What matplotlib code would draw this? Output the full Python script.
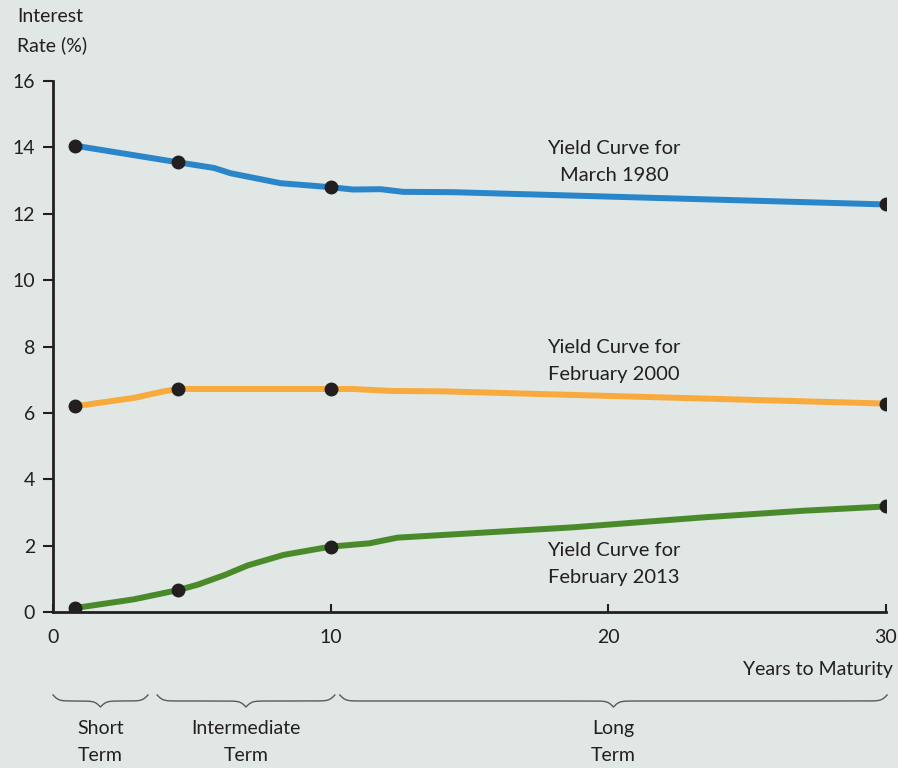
import numpy as np
import matplotlib.pyplot as plt
from matplotlib.transforms import blended_transform_factory

# yield curve data, years to maturity vs interest rate (%)
yrs_1980 = [0.8, 4.5, 5.8, 6.4, 7.0, 8.2, 10, 10.8, 11.8, 12.6, 14.4, 30]
rate_1980 = [14.05, 13.55, 13.38, 13.22, 13.12, 12.92, 12.8, 12.73, 12.74, 12.66, 12.65, 12.28]

yrs_2000 = [0.8, 2.9, 4.0, 4.5, 10, 10.8, 12.2, 14, 30]
rate_2000 = [6.2, 6.45, 6.65, 6.72, 6.72, 6.72, 6.66, 6.65, 6.28]

yrs_2013 = [0.8, 2.9, 4.5, 5.2, 6.2, 7.0, 8.3, 10, 11.4, 12.4, 18.7, 23.4, 27, 30]
rate_2013 = [0.12, 0.38, 0.66, 0.82, 1.12, 1.4, 1.72, 1.97, 2.07, 2.24, 2.55, 2.85, 3.05, 3.18]

dot_years = [0.8, 4.5, 10, 30]

curve_names = ["Yield Curve for\nMarch 1980", "Yield Curve for\nFebruary 2000",
               "Yield Curve for\nFebruary 2013"]
curve_colors = ["#2a86c8", "#f9aa3c", "#4b8a2b"]

terms = ["Short\nTerm", "Intermediate\nTerm", "Long\nTerm"]
term_spans = [(0, 3.42), (3.75, 10.15), (10.33, 30.04)]

bg = "#e0e7e5"
ink = "#231f20"
plt.rcParams['font.family'] = ['Lato', 'DejaVu Sans']

fig = plt.figure(figsize=(8.98, 7.68), dpi=100, facecolor=bg)
ax = fig.add_axes([53/898, 1-612/768, (886-53)/898, (612-81)/768])
ax.set_facecolor(bg)

series = [(yrs_1980, rate_1980), (yrs_2000, rate_2000), (yrs_2013, rate_2013)]
for (xs, ys), c in zip(series, curve_colors):
    ax.plot(xs, ys, color=c, lw=4.3, solid_capstyle='butt', zorder=2)
    dy = np.interp(dot_years, xs, ys)
    ax.plot(dot_years, dy, 'o', color=ink, ms=9, zorder=3)

ax.set_xlim(0, 30)
ax.set_ylim(0, 16)
ax.set_xticks([0, 10, 20, 30])
ax.set_yticks(range(0, 17, 2))
for s in ['top', 'right']:
    ax.spines[s].set_visible(False)
for s in ['left', 'bottom']:
    ax.spines[s].set_linewidth(2)
    ax.spines[s].set_color(ink)
ax.tick_params(axis='y', direction='out', length=7, width=1.5, pad=6,
               labelsize=14, colors=ink)
ax.tick_params(axis='x', direction='in', length=6, width=1.5, pad=12,
               labelsize=14, colors=ink)

label_pos = [(20.2, 13.55), (20.2, 7.56), (20.2, 1.45)]
for name, (lx, ly) in zip(curve_names, label_pos):
    ax.text(lx, ly, name, ha='center', va='center', fontsize=14.5,
            color=ink, linespacing=1.72)

fig.text(17/898, 1-31/768, "Interest\nRate (%)", ha='left', va='center',
         fontsize=14, color=ink, linespacing=1.7)
fig.text(893/898, 1-670/768, "Years to Maturity", ha='right', va='center',
         fontsize=14, color=ink)

# curly braces under the x axis
trans = blended_transform_factory(ax.transData, fig.transFigure)
ppy = (886-53)/30.0
top_px = 689
h_px = 12
for (x0, x1), lab in zip(term_spans, terms):
    W = (x1-x0)*ppy/2
    u = np.linspace(0, W, 200)
    k = 0.35
    half = 1/(1+np.exp(-k*u)) + 1/(1+np.exp(-k*(u-W)))
    yy = np.concatenate([half, half[::-1]])
    xx = np.concatenate([x0 + u/ppy, x0 + (W + u)/ppy])
    yf = 1 - (top_px + yy*h_px)/768
    ax.plot(xx, yf, color='#5a5a5a', lw=1.0, transform=trans, clip_on=False)
    ax.text((x0+x1)/2, 1-742/768, lab, ha='center', va='center', fontsize=14,
            color=ink, linespacing=1.7, transform=trans, clip_on=False)

fig.savefig("out.png", dpi=100, facecolor=bg)
